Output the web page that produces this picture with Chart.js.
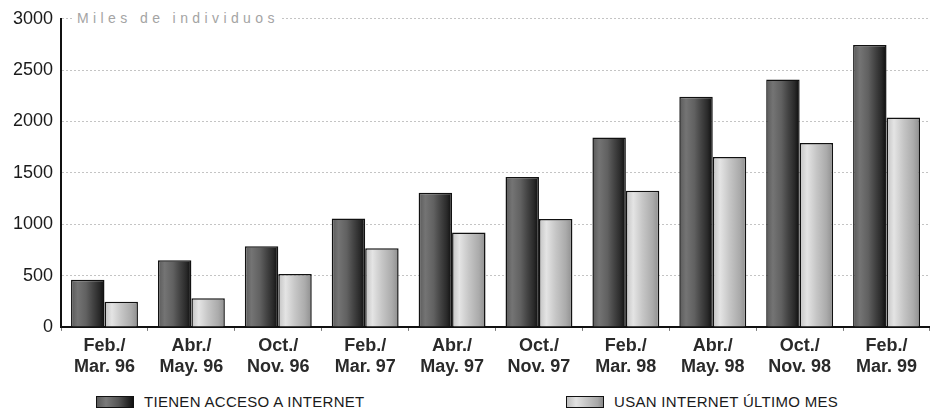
<!DOCTYPE html>
<html>
<head>
<meta charset="utf-8">
<script src="https://cdn.jsdelivr.net/npm/chart.js@4.4.0/dist/chart.umd.min.js"></script>
<style>
	html, body { margin: 0; padding: 0; background: #fff; }
	#wrap { position: relative; width: 930px; height: 410px; overflow: hidden; }
	#chart { position: absolute; left: 0; top: 0; }
	#ytitle {
		position: absolute; left: 73px; top: 10px;
		padding: 0 3px 0 4px; background: #fff;
		font: 14px "Liberation Sans", Arial, sans-serif;
		letter-spacing: 4.4px; color: #a4a4a4; line-height: 16px;
	}
	.lg {
		position: absolute; top: 394px; height: 16px;
		font: 15px "Liberation Sans", Arial, sans-serif;
		letter-spacing: 0.3px;
		color: #1a1a1a; line-height: 16px; white-space: nowrap;
	}
	.sw {
		display: inline-block; width: 36px; height: 10px; vertical-align: -1px;
		border: 1px solid #111; margin-right: 10px;
	}
	.sw--dark  { background: linear-gradient(to right, #5a5a5a, #7a7a7a 25%, #555 60%, #2a2a2a 85%, #111); }
	.sw--light { background: linear-gradient(to right, #bdbdbd, #e2e2e2 25%, #c4c4c4 55%, #a8a8a8 85%, #8a8a8a); }
</style>
</head>
<body>
<div id="wrap">
	<canvas id="chart" width="930" height="385"></canvas>
	<span id="ytitle">Miles de individuos</span>
	<div class="lg" style="left:96px"><i class="sw sw--dark"></i>TIENEN ACCESO A INTERNET</div>
	<div class="lg" style="left:566px"><i class="sw sw--light"></i>USAN INTERNET ÚLTIMO MES</div>
</div>
<script>
( function () {
	'use strict';

	// ── Data ──────────────────────────────────────────────────────────────────
	var periods = [
		[ 'Feb./', 'Mar. 96' ], [ 'Abr./', 'May. 96' ], [ 'Oct./', 'Nov. 96' ],
		[ 'Feb./', 'Mar. 97' ], [ 'Abr./', 'May. 97' ], [ 'Oct./', 'Nov. 97' ],
		[ 'Feb./', 'Mar. 98' ], [ 'Abr./', 'May. 98' ], [ 'Oct./', 'Nov. 98' ],
		[ 'Feb./', 'Mar. 99' ]
	];
	var tienenAcceso = [ 460, 650, 785, 1055, 1305, 1460, 1845, 2240, 2410, 2745 ];
	var usanUltimoMes = [ 245, 280, 515, 765, 920, 1050, 1325, 1655, 1790, 2040 ];
	var yTicks = [ 0, 500, 1000, 1500, 2000, 2500, 3000 ];

	var seriesNames = [ 'TIENEN ACCESO A INTERNET', 'USAN INTERNET ÚLTIMO MES' ];

	// ── Styles ────────────────────────────────────────────────────────────────
	var CAT_PCT = 0.77;
	var darkStops = [
		[ 0, '#5a5a5a' ], [ 0.2, '#747474' ], [ 0.45, '#616161' ],
		[ 0.65, '#444' ], [ 0.85, '#292929' ], [ 1, '#0c0c0c' ]
	];
	var lightStops = [
		[ 0, '#c2c2c2' ], [ 0.22, '#e4e4e4' ], [ 0.5, '#c6c6c6' ],
		[ 0.8, '#ababab' ], [ 1, '#8e8e8e' ]
	];

	// Horizontal gradient per bar, placed from the x scale.
	function barFill( stops ) {
		return function ( ctx ) {
			var chart = ctx.chart;
			var xs    = chart.scales.x;
			if ( ! xs || ctx.dataIndex === undefined || ! isFinite( xs.width ) ) {
				return stops[ 1 ][ 1 ];
			}
			var catW   = xs.width / periods.length;
			var barW   = catW * CAT_PCT / 2;
			var center = xs.getPixelForValue( ctx.dataIndex );
			var left   = ctx.datasetIndex === 0 ? center - barW : center;
			var g = chart.ctx.createLinearGradient( left, 0, left + barW, 0 );
			stops.forEach( function ( s ) { g.addColorStop( s[ 0 ], s[ 1 ] ); } );
			return g;
		};
	}

	// ── Chart ─────────────────────────────────────────────────────────────────
	new Chart( document.getElementById( 'chart' ), {
		type : 'bar',
		data : {
			labels   : periods,
			datasets : [
				{
					label           : seriesNames[ 0 ],
					data            : tienenAcceso,
					backgroundColor : barFill( darkStops ),
					borderColor     : '#111',
					borderWidth     : 1.5,
				},
				{
					label           : seriesNames[ 1 ],
					data            : usanUltimoMes,
					backgroundColor : barFill( lightStops ),
					borderColor     : '#111',
					borderWidth     : 1.5,
				},
			],
		},
		options : {
			responsive       : false,
			animation        : false,
			devicePixelRatio : 1,
			layout : { padding: { left: 5, right: 0, top: 18, bottom: 2 } },
			datasets : { bar: { categoryPercentage: CAT_PCT, barPercentage: 1 } },
			plugins : {
				legend  : { display: false },
				tooltip : { enabled: false },
			},
			scales : {
				x : {
					grid   : { drawOnChartArea: false, drawTicks: true, tickLength: 4, color: '#777', lineWidth: 1 },
					border : { display: true, color: '#111', width: 2 },
					ticks  : {
						color       : '#2a2a2a',
						padding     : 5,
						maxRotation : 0,
						font        : { family: '"Liberation Sans", Arial, sans-serif', size: 18, weight: 'bold', lineHeight: 1.17 },
					},
				},
				y : {
					min  : yTicks[ 0 ],
					max  : yTicks[ yTicks.length - 1 ],
					afterBuildTicks : function ( axis ) {
						axis.ticks = yTicks.map( function ( v ) { return { value: v }; } );
					},
					grid   : { color: '#c4c4c4', lineWidth: 1, drawTicks: false },
					border : { display: true, color: '#111', width: 2, dash: [ 2, 2 ] },
					ticks  : {
						color    : '#1a1a1a',
						padding  : 8,
						font     : { family: '"Liberation Sans", Arial, sans-serif', size: 18 },
						callback : function ( v ) { return String( v ); },
					},
				},
			},
		},
	} );
}() );
</script>
</body>
</html>
